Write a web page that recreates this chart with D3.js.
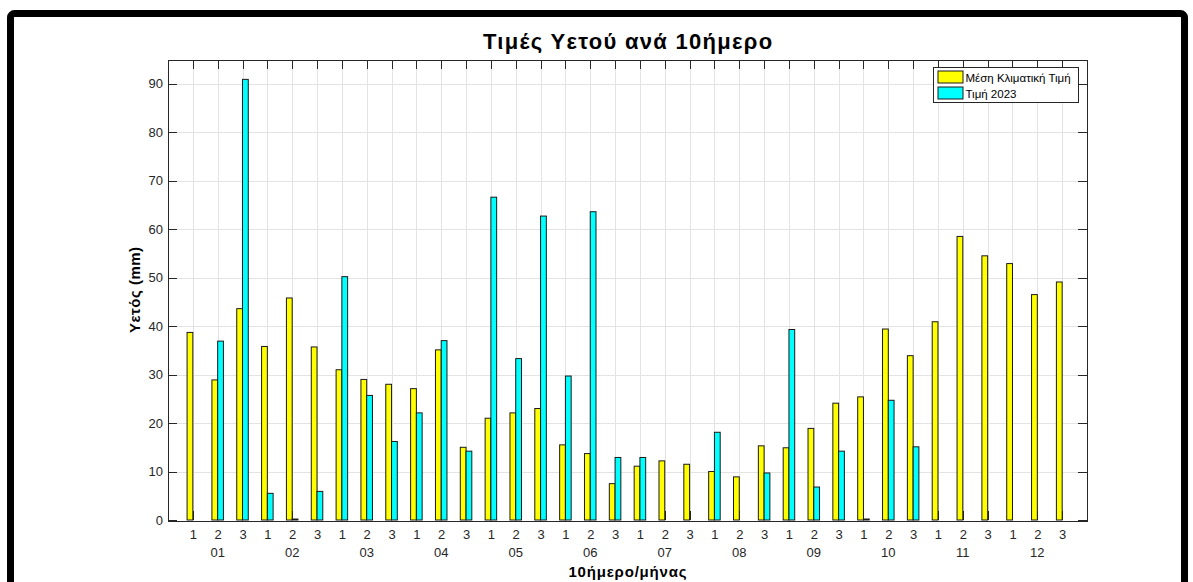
<!DOCTYPE html>
<html>
<head>
<meta charset="utf-8">
<script src="https://cdn.jsdelivr.net/npm/d3@7"></script>
<style>
  body { margin: 0; background: #fff; }
  svg { display: block; font-family: "Liberation Sans", Arial, Helvetica, sans-serif; }
  .tick text { fill: #262626; font-size: 13px; }
  .axis path, .axis line { stroke: #262626; shape-rendering: crispEdges; }
  .grid line { stroke: #e3e3e3; shape-rendering: crispEdges; }
</style>
</head>
<body>
<div id="svg-container"></div>
<script>
// data
const dekadLabels = ["1", "2", "3"];
const months = ["01", "02", "03", "04", "05", "06", "07", "08", "09", "10", "11", "12"];
const climateMean = [38.7, 28.9, 43.6, 35.8, 45.8, 35.7, 31.0, 29.0, 28.0, 27.1, 35.1, 15.0,
  21.0, 22.1, 23.0, 15.5, 13.7, 7.5, 11.1, 12.2, 11.5, 10.0, 8.9, 15.3,
  14.9, 18.9, 24.1, 25.4, 39.4, 33.9, 40.9, 58.5, 54.5, 52.9, 46.5, 49.1];
const rain2023 = [0, 36.9, 90.9, 5.5, 0.2, 5.9, 50.2, 25.7, 16.2, 22.1, 37.0, 14.2,
  66.6, 33.3, 62.7, 29.7, 63.6, 12.9, 12.9, 0, 0, 18.1, 0, 9.7,
  39.3, 6.8, 14.2, 0.2, 24.7, 15.1, 0, 0, 0, 0, 0, 0];
const yTicks = [0, 10, 20, 30, 40, 50, 60, 70, 80, 90];
const seriesNames = ["Μέση Κλιματική Τιμή", "Τιμή 2023"];
const seriesColors = ["#ffff00", "#00ffff"];

////////////////////////////  Init  ///////////////////////////////
const width = 1193, height = 582;
const margin = { top: 59.5, right: 106, bottom: 62, left: 168 };

const svg = d3.select("#svg-container").append("svg")
  .attr("width", width).attr("height", height);

// black frame around the figure
svg.append("rect")
  .attr("x", 10.5).attr("y", 13.5)
  .attr("width", 1174).attr("height", 620)
  .attr("rx", 4)
  .attr("fill", "none")
  .attr("stroke", "#000")
  .attr("stroke-width", 7);

const n = climateMean.length;
const xScale = d3.scaleLinear().domain([0, n + 1]).range([margin.left, width - margin.right]);
const yScale = d3.scaleLinear().domain([0, 95]).range([height - margin.bottom, margin.top]);
const idx = d3.range(1, n + 1);

// grid
svg.append("g").attr("class", "grid")
  .selectAll("line").data(idx).join("line")
  .attr("x1", d => Math.round(xScale(d)) + 0.5).attr("x2", d => Math.round(xScale(d)) + 0.5)
  .attr("y1", yScale(95)).attr("y2", yScale(0));
svg.append("g").attr("class", "grid")
  .selectAll("line").data(yTicks.slice(1)).join("line")
  .attr("x1", xScale(0)).attr("x2", xScale(n + 1))
  .attr("y1", d => Math.round(yScale(d)) + 0.5).attr("y2", d => Math.round(yScale(d)) + 0.5);

// axes (drawn under the bars, like matlab's bottom layer)
const xAxis = d3.axisBottom(xScale)
  .tickValues(idx)
  .tickFormat(d => dekadLabels[(d - 1) % 3])
  .tickSizeInner(-9).tickSizeOuter(0).tickPadding(10);
const yAxis = d3.axisLeft(yScale)
  .tickValues(yTicks)
  .tickSizeInner(-9).tickSizeOuter(0).tickPadding(5);

svg.append("g").attr("class", "axis")
  .attr("transform", `translate(0,${yScale(0)})`)
  .call(xAxis)
  .call(g => g.select(".domain").remove());
svg.append("g").attr("class", "axis")
  .attr("transform", `translate(0,${margin.top})`)
  .call(d3.axisTop(xScale).tickValues(idx).tickFormat("").tickSizeInner(-9).tickSizeOuter(0))
  .call(g => g.select(".domain").remove());
svg.append("g").attr("class", "axis")
  .attr("transform", `translate(${margin.left},0)`)
  .call(yAxis)
  .call(g => g.select(".domain").remove());
svg.append("g").attr("class", "axis")
  .attr("transform", `translate(${width - margin.right},0)`)
  .call(d3.axisRight(yScale).tickValues(yTicks).tickFormat("").tickSizeInner(-9).tickSizeOuter(0))
  .call(g => g.select(".domain").remove());

// bars
const barW = 0.232;
const series = [climateMean, rain2023];
series.forEach((vals, s) => {
  const off = (s === 0 ? -1 : 1) * barW / 2;
  svg.append("g")
    .selectAll("rect").data(vals).join("rect")
    .attr("x", (d, i) => xScale(i + 1 + off - barW / 2))
    .attr("width", xScale(barW) - xScale(0))
    .attr("y", d => yScale(d))
    .attr("height", d => yScale(0) - yScale(d))
    .attr("fill", seriesColors[s])
    .attr("stroke", "#1a1a1a")
    .attr("stroke-width", 1);
});

// axes box
svg.append("rect")
  .attr("x", Math.round(xScale(0)) + 0.5).attr("y", Math.round(yScale(95)) + 0.5)
  .attr("width", Math.round(xScale(n + 1) - xScale(0)))
  .attr("height", Math.round(yScale(0) - yScale(95)))
  .attr("fill", "none").attr("stroke", "#262626")
  .attr("shape-rendering", "crispEdges");

// month labels
svg.append("g")
  .selectAll("text").data(months).join("text")
  .attr("x", (d, i) => xScale(i * 3 + 2))
  .attr("y", 557)
  .attr("text-anchor", "middle")
  .attr("font-size", 13)
  .attr("fill", "#262626")
  .text(d => d);

// title and labels
const midX = (xScale(0) + xScale(n + 1)) / 2;
svg.append("text")
  .attr("x", midX + 0.7).attr("y", 49)
  .attr("text-anchor", "middle")
  .attr("font-size", 22).attr("font-weight", "bold")
  .attr("letter-spacing", 1.3)
  .text("Τιμές Υετού ανά 10ήμερο");

svg.append("text")
  .attr("x", midX + 0.4).attr("y", 577)
  .attr("text-anchor", "middle")
  .attr("font-size", 15).attr("font-weight", "bold")
  .attr("letter-spacing", 0.8)
  .text("10ήμερο/μήνας");

svg.append("text")
  .attr("transform", `translate(140,${(yScale(0) + yScale(95)) / 2}) rotate(-90)`)
  .attr("text-anchor", "middle")
  .attr("font-size", 15).attr("font-weight", "bold")
  .attr("letter-spacing", 0.5)
  .text("Υετός (mm)");

// legend
const legend = svg.append("g").attr("transform", "translate(933.5,67.5)");
legend.append("rect")
  .attr("width", 145).attr("height", 35)
  .attr("fill", "#fff").attr("stroke", "#262626");
legend.selectAll(".sw").data(seriesNames).join("rect")
  .attr("class", "sw")
  .attr("x", 4.5).attr("y", (d, i) => 3.5 + i * 16)
  .attr("width", 25).attr("height", 12)
  .attr("fill", (d, i) => seriesColors[i])
  .attr("stroke", "#1a1a1a");
legend.selectAll(".lt").data(seriesNames).join("text")
  .attr("class", "lt")
  .attr("x", 32).attr("y", (d, i) => 14 + i * 16)
  .attr("font-size", 11.5)
  .attr("fill", "#000")
  .text(d => d);
</script>
</body>
</html>
